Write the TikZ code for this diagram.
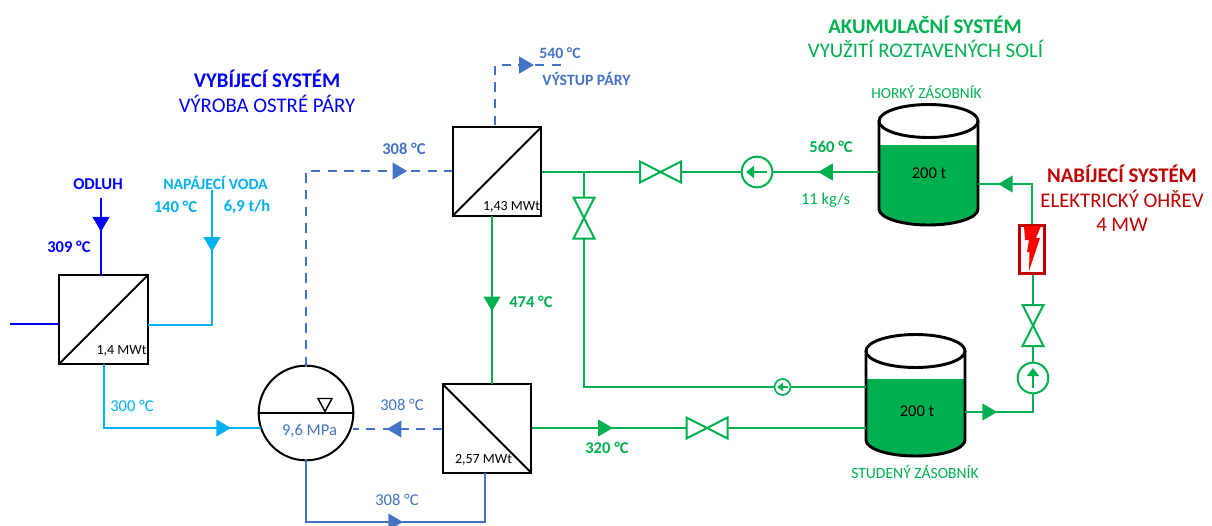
\documentclass[tikz,border=0pt]{standalone}
\usepackage{fontspec}
\setmainfont{Carlito}
\usepackage{tikz}
\usetikzlibrary{arrows.meta,decorations.markings,positioning}
\definecolor{odluh}{RGB}{0,0,255}
\definecolor{voda}{RGB}{0,176,240}
\definecolor{para}{RGB}{68,114,196}
\definecolor{sul}{RGB}{0,176,80}
\definecolor{ohrev}{RGB}{192,0,0}
\tikzset{
  hx/.style={draw=black,line width=1.5pt,minimum size=66.5pt,inner sep=0pt,outer sep=0pt},
  pump/.style={circle,draw=sul,fill=white,line width=1.5pt,minimum size=23pt,inner sep=0pt,outer sep=0pt},
  smallpump/.style={pump,line width=1.2pt,minimum size=12pt},
  pipe/.style={line width=1.5pt},
  steam/.style={pipe,color=para,dash pattern=on 7pt off 5.5pt},
  flow/.style={postaction={decorate},decoration={markings,mark=at position #1 with {\arrow[xshift=5pt,solid]{Triangle[length=11pt,width=12.5pt]}}}},
  lbl/.style={inner sep=0pt,font=\fontsize{12.4}{14}\selectfont},
  rate/.style={lbl,font=\fontsize{12.4}{14}\selectfont\bfseries},
  rateb/.style={lbl,font=\fontsize{11.8}{14}\selectfont\bfseries},
  power/.style={inner sep=0pt,black,font=\fontsize{10.5}{13}\selectfont},
  head/.style={inner sep=0pt,font=\fontsize{15.6}{18}\selectfont\bfseries},
  sub/.style={inner sep=0pt,font=\fontsize{15.6}{18}\selectfont},
}
\newcommand{\valveh}[2]{% valve lying along x
  \draw[sul,pipe,fill=white] (#1-20.5,#2-10.5) -- (#1+20.5,#2+10.5) -- (#1+20.5,#2-10.5) -- (#1-20.5,#2+10.5) -- cycle;
}
\newcommand{\valvev}[2]{% valve standing along y
  \draw[sul,pipe,fill=white] (#1-10.5,#2-20.5) -- (#1+10.5,#2+20.5) -- (#1-10.5,#2+20.5) -- (#1+10.5,#2-20.5) -- cycle;
}
\newcommand{\tank}[5]{% left, right, top centre, fill top, side bottom
  \fill[sul] (#1,#4) -- (#2,#4) -- (#2,#5) arc[start angle=0,end angle=180,x radius=#2/2-#1/2,y radius=16] -- cycle;
  \draw[line width=2.2pt,line join=round] (#1,#3) -- (#1,#5) arc[start angle=180,end angle=0,x radius=#2/2-#1/2,y radius=16] -- (#2,#3);
  \draw[line width=2.2pt] ({(#1+#2)/2},#3) ellipse[x radius=#2/2-#1/2,y radius=16.5];
}
\begin{document}
\begin{tikzpicture}[x=0.75pt,y=-0.75pt]
\clip (0,0) rectangle (1212,525);

% vymeniky
\node[hx] (hxa) at (103.5,319.5) {};
\node[hx] (hxb) at (497,171.5) {};
\node[hx] (hxc) at (487,428.5) {};
\draw[line width=1.5pt] (hxa.south west) -- (hxa.north east);
\draw[line width=1.5pt] (hxb.south west) -- (hxb.north east);
\draw[line width=1.5pt] (hxc.north west) -- (hxc.south east);
\node[power,anchor=east] (qa) at ([xshift=-0.75pt,yshift=9.75pt]hxa.south east) {1,4 MWt};
\node[power,anchor=east] (qb) at ([xshift=-0.75pt,yshift=6.75pt]hxb.south east) {1,43 MWt};
\node[power,anchor=east] (qc) at ([xshift=-14.25pt,yshift=9.75pt]hxc.south east) {2,57 MWt};

% buben
\node[circle,draw=black,line width=1.5pt,minimum size=71pt,inner sep=0pt,outer sep=0pt] (drum) at (306,413) {};
\draw[line width=1.5pt] (drum.west) -- (drum.east);
\draw[line width=1.1pt] (318,398.5) -- (332,398.5) -- (325,411.5) -- cycle;
\node[lbl,para] (tlak) at (309.5,431) {9,6 MPa};

% nadrze
\tank{879}{978}{121}{145}{209}
\tank{866}{965}{351}{379}{440}
\node[lbl,black] (mhot) at (929,173) {200 t};
\node[lbl,black] (mcold) at (917,411) {200 t};

% modre a parni vedeni
\coordinate (oin) at (101,198);
\coordinate (oina) at (101,275);
\coordinate (oout) at (10,324);
\coordinate (oouta) at (59,324);
\draw[pipe,odluh,flow=0.35] (oin) -- (oina);
\draw[pipe,odluh] (oouta) -- (oout);
\coordinate (nv) at (212,190);
\coordinate (nva) at (148,325);
\draw[pipe,voda,flow=0.277] (nv) -- (212,325) -- (nva);
\coordinate (hxaout) at (104,364);
\coordinate (druma) at (261,428);
\draw[pipe,voda,flow=0.834] (hxaout) -- (104,428) -- (druma);
\coordinate (drumtop) at (306,366);
\coordinate (hxbin) at (452,171);
\draw[steam,flow=0.849] (drumtop) -- (306,171) -- (hxbin);
\coordinate (hxbtop) at (495,125);
\coordinate (vystup) at (566,65);
\draw[steam,flow=0.704] (hxbtop) -- (495,65) -- (vystup);
\coordinate (hxcin) at (442,429);
\coordinate (drumb) at (353,429);
\draw[steam,flow=0.546] (hxcin) -- (drumb);
\coordinate (drumbot) at (306,460);
\coordinate (hxcbot) at (485,473);
\draw[pipe,para,flow=0.525] (drumbot) -- (306,522) -- (485,522) -- (hxcbot);

% solna vedeni
\coordinate (hotout) at (879,172);
\coordinate (hxbout) at (542,172);
\draw[pipe,sul,flow=0.161] (hotout) -- (hxbout);
\coordinate (branch) at (584,172);
\coordinate (coldin) at (866,387);
\draw[pipe,sul] (branch) -- (584,387) -- (coldin);
\coordinate (hxbbot) at (492,216);
\coordinate (hxctop) at (492,384);
\draw[pipe,sul,flow=0.527] (hxbbot) -- (hxctop);
\coordinate (hxcout) at (532,428);
\coordinate (coldina) at (866,428);
\draw[pipe,sul,flow=0.222] (hxcout) -- (coldina);
\coordinate (coldout) at (965,412);
\draw[pipe,sul,flow=0.124] (coldout) -- (1033,412) -- (1033,275);
\coordinate (hotin) at (978,184);
\draw[pipe,sul,flow=0.716] (1032,224) -- (1032,184) -- (hotin);

\valveh{660.5}{172}
\valveh{707}{428}
\valvev{584}{218}
\valvev{1033}{325.5}

\node[pump] (pa) at (757,172) {};
\draw[sul,line width=2pt,-{Triangle[length=6pt,width=9pt]}] (767,172) -- (746,172);
\node[smallpump] (pb) at (782.5,387) {};
\draw[sul,line width=1.2pt,-{Triangle[length=4.5pt,width=6pt]}] (788,387) -- (777,387);
\node[pump] (pc) at (1033,378) {};
\draw[sul,line width=2pt,-{Triangle[length=6pt,width=9pt]}] (1033,388) -- (1033,368);

% ohrivac
\node[draw=ohrev,fill=white,line width=2pt,minimum width=19pt,minimum height=36pt,inner sep=0pt] (heater) at (1032,249.5) {};
\fill[red] (1024,226) -- (1041,226) -- (1036,238) -- (1040,238) -- (1029,271) -- (1029.5,252) -- (1027,252) -- (1029,240) -- (1025,240) -- cycle;

% popisky
\node[head,odluh] (tvyb) at (267,79) {VYBÍJECÍ SYSTÉM};
\node[sub,odluh] (tvyba) at (267,104) {VÝROBA OSTRÉ PÁRY};
\node[head,sul] (tak) at (925,25) {AKUMULAČNÍ SYSTÉM};
\node[sub,sul] (taka) at (925.5,49) {VYUŽITÍ ROZTAVENÝCH SOLÍ};
\node[head,ohrev] (tnab) at (1122,174) {NABÍJECÍ SYSTÉM};
\node[sub,ohrev] (tnaba) at (1122,199) {ELEKTRICKÝ OHŘEV};
\node[sub,ohrev] (tnabb) at (1122,225) {4 MW};
\node[rate,odluh] (todl) at (98,184) {ODLUH};
\node[rate,odluh] (t309) at (69,247) {309 °C};
\node[rateb,voda] (tnap) at (215.5,183) {NAPÁJECÍ VODA};
\node[rate,voda] (t140) at (175.5,207) {140 °C};
\node[rate,voda] (t69) at (247,207) {6,9 t/h};
\node[lbl,voda] (t300) at (132,406) {300 °C};
\node[rate,para] (t308a) at (404,149) {308 °C};
\node[rateb,para] (t540) at (560,53) {540 °C};
\node[rateb,para] (tvys) at (586.5,79) {VÝSTUP PÁRY};
\node[lbl,para] (t308b) at (402,405) {308 °C};
\node[lbl,para] (t308c) at (397,500) {308 °C};
\node[rate,sul] (t474) at (531,302) {474 °C};
\node[rate,sul] (t320) at (607,448) {320 °C};
\node[rate,sul] (t560) at (831,147) {560 °C};
\node[lbl,sul] (t11) at (825.5,200) {11 kg/s};
\node[lbl,sul,font=\fontsize{11.5}{14}\selectfont] (thot) at (926.5,92) {HORKÝ ZÁSOBNÍK};
\node[lbl,sul,font=\fontsize{11.7}{14}\selectfont] (tcold) at (915,472) {STUDENÝ ZÁSOBNÍK};
\end{tikzpicture}
\end{document}
